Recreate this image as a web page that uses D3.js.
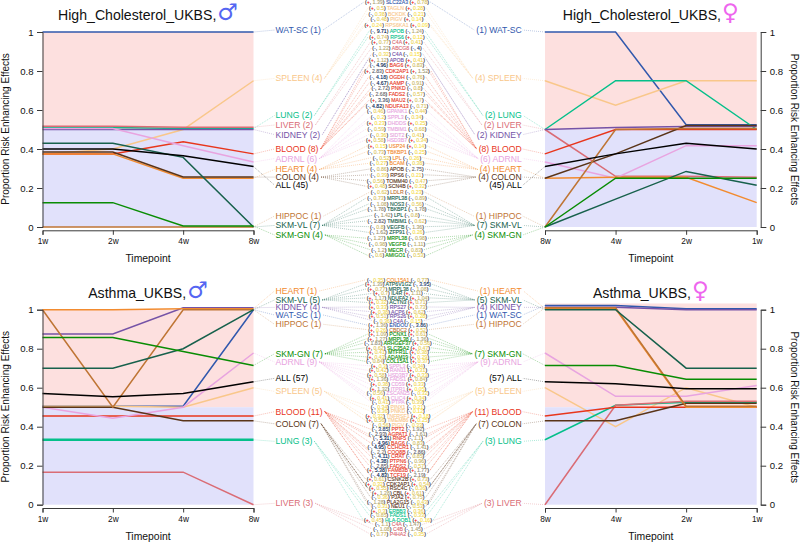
<!DOCTYPE html>
<html><head><meta charset="utf-8">
<script src="https://cdn.jsdelivr.net/npm/d3@7"></script>
<style>html,body{margin:0;background:#fff}svg{display:block}text{font-family:"Liberation Sans",Arial,sans-serif}</style>
</head><body><svg id="c" width="800" height="542"></svg>
<script>
const tissueNames = ["WAT-SC","SPLEEN","LUNG","LIVER","KIDNEY","BLOOD","ADRNL","HEART","COLON","ALL","HIPPOC","SKM-VL","SKM-GN"];
const tissueColors = ["#3158ad","#f9c78a","#04bf8a","#da6c75","#7553a7","#e8361c","#e8a4e0","#f28b2f","#5a3418","#000000","#bf7534","#17614c","#088c03"];
const timeMale = ["1w","2w","4w","8w"];
const timeFemale = ["8w","4w","2w","1w"];
const yTicks = [0,0.2,0.4,0.6,0.8,1];

// proportion values, one row per tissue in tissueNames order
const hcMale = [[1,1,1,1],[.375,.4,.5,.75],[.51,.51,.505,.505],[.517,.517,.512,.512],[.5,.5,.5,.5],[.375,.375,.4375,.375],[.505,.505,.417,.333],[.375,.375,.25,.25],[.385,.385,.256,.256],[.4,.4,.365,.31],[0,0,0,0],[.43,.43,.357,0],[.125,.125,.005,.005]];
const hcFemale = [[1,1,.525,.525],[.75,.625,.75,.75],[.5,.75,.75,.5],[.5,.26,.26,.255],[.5,.51,.515,.515],[.375,.5,.5,.5],[.333,.25,.417,.417],[.25,.255,.255,.125],[.25,.375,.52,.52],[.31,.375,.43,.4],[0,.5,.505,.505],[0,.143,.285,.214],[0,.25,.25,.25]];
const asMale = [[.505,.505,.505,1],[.505,.505,.5,.6],[.333,.333,.333,.333],[.167,.167,.167,0],[.875,.875,1.01,1.01],[.4545,.4545,.4545,.4545],[.5,.444,.5,.778],[1,1,1.005,1.005],[.5,.5,.43,.43],[.57,.553,.57,.63],[1,.5,1,1],[.7,.7,.8,1],[.857,.857,.786,.714]];
const asFemale = [[1.022,1.022,1.005,1.005],[.6,.4,.6,.5],[.333,.51,.525,.525],[0,.51,.53,.53],[1.012,1.012,1,1],[.4545,.5,.5,.5],[.778,.556,.556,.611],[1.005,1.005,.5,.5],[.43,.43,.52,.52],[.63,.62,.595,.595],[1.01,1.01,.505,.505],[1,1,.7,.7],[.714,.714,.643,.643]];

// level of each tissue label on the y scale, in tissueNames order
const hcLabelLevels = [1.01,.762,.572,.523,.474,.40,.351,.295,.256,.215,.056,.008,-.041];
const asLabelLevels = [.973,.581,.325,.007,1.012,.477,.732,1.096,.415,.648,.925,1.05,.774];

// rows: tissue, gene, male sign, male value, female sign, female value
const hcRows = [
["WAT-SC","SLC22A3","+",1.39,"+",0.78],
["SPLEEN","TAGLN","+",0.5,"+",0.28],["SPLEEN","BCKDK","-",0.38,"-",0.21],["SPLEEN","PIGV","-",0.48,"+",0.14],["SPLEEN","RPS6KA1","+",0.24,"+",0.09],
["LUNG","APOB","-",9.71,"-",1.24],["LUNG","RPS6","+",0.74,"+",0.12],
["LIVER","C4A","+",0.77,"+",0.41],["LIVER","ABCG8","-",1.22,"-",4],
["KIDNEY","C4A","-",0.32,"-",0.15],["KIDNEY","APOB","+",1.12,"+",0.41],
["BLOOD","BAG6","-",4.96,"+",0.83],["BLOOD","CDK2AP1","+",2.83,"+",1.52],["BLOOD","OGDH","-",4.18,"-",0.76],["BLOOD","AAMP","-",4.67,"-",0.91],["BLOOD","PNKD","-",2.72,"-",0.8],["BLOOD","FADS2","-",2.68,"-",0.57],["BLOOD","MAU2","+",3.36,"+",0.7],["BLOOD","NDUFA13","-",4.82,"-",0.71],
["ADRNL","GPANK1","-",0.46,"-",0.44],["ADRNL","SPPL3","-",0.2,"-",0.34],["ADRNL","DHDDS","+",0.23,"+",0.25],["ADRNL","TMBIM1","-",0.59,"-",0.68],["ADRNL","SIDT2","-",0.36,"-",0.41],["ADRNL","HSD3B7","+",0.58,"+",0.34],
["HEART","USP24","+",0.15,"+",0.14],["HEART","TBKBP1","-",0.73,"-",0.25],["HEART","LPL","-",0.52,"-",0.26],["HEART","BCAM","-",0.27,"-",0.38],
["COLON","APOB","-",0.86,"-",2.75],["COLON","RPS6","-",0.39,"-",0.21],["COLON","TOMM40","-",0.56,"-",0.47],["COLON","SCN4B","+",0.48,"+",0.32],
["HIPPOC","LDLR","-",0.62,"-",0.23],
["SKM-VL","MRPL38","-",0.73,"-",0.89],["SKM-VL","NOS3","-",1.08,"-",0.56],["SKM-VL","TBKBP1","-",1.78,"-",1.78],["SKM-VL","LPL","-",1.42,"-",0.8],["SKM-VL","TMBIM1","-",2.82,"-",0.62],["SKM-VL","VEGFB","-",0.8,"-",1.36],["SKM-VL","ZFP91","-",1.62,"-",0.26],
["SKM-GN","MRPL38","-",1.27,"-",0.98],["SKM-GN","VEGFB","-",0.98,"-",1.11],["SKM-GN","MECR","-",1.2,"-",0.83],["SKM-GN","AMIGO1","-",0.6,"-",0.53]];

const asRows = [
["HEART","COL15A1","-",0.35,"-",0.77],
["SKM-VL","ATP6V1G2","+",1.39,"-",3.95],["SKM-VL","MRPL38","+",0.77,"-",1.08],["SKM-VL","IL4R","+",0.7,"+",1.11],["SKM-VL","NDUFA2","+",1.17,"+",1.04],["SKM-VL","ACTN3","+",0.32,"+",0.71],
["KIDNEY","RPS27","+",0.33,"+",0.73],["KIDNEY","ACP6","+",0.38,"+",0.62],["KIDNEY","RPS26","+",0.51,"+",0.28],["KIDNEY","C4A","-",0.36,"-",0.15],
["WAT-SC","ENDOU","+",1.36,"-",3.86],
["HIPPOC","CBDC2","+",0.26,"+",0.52],
["SKM-GN","PCNX1","+",1.09,"+",0.61],["SKM-GN","MRPL38","+",1.27,"-",1.36],["SKM-GN","ARHGEF37","-",1.83,"+",0.56],["SKM-GN","SLC35A2","+",0.62,"+",0.47],["SKM-GN","MTFR1L","+",0.41,"+",0.38],["SKM-GN","ADAM19","+",0.43,"+",0.29],["SKM-GN","COL15A1","-",0.84,"+",0.37],
["ADRNL","SPPL3","+",0.3,"-",0.34],["ADRNL","RAN11","+",0.42,"+",0.31],["ADRNL","HSD3B7","+",0.58,"+",0.33],["ADRNL","FADS1","+",1.36,"+",0.84],["ADRNL","CD59","+",0.38,"+",0.33],["ADRNL","ITPR1","+",1.32,"+",0.05],["ADRNL","ZSCAN25","-",0.56,"-",0.32],["ADRNL","CLIC4","+",0.41,"+",0.34],["ADRNL","PTPA","-",0.41,"-",0.39],
["SPLEEN","PINX1","-",0.34,"-",0.21],["SPLEEN","PNKD","-",0.36,"-",0.12],["SPLEEN","TNFRSF1","+",0.32,"+",0.18],["SPLEEN","TMEM86","+",0.56,"+",0.25],["SPLEEN","PIGV","-",0.56,"-",0.33],
["BLOOD","PPT2","-",3.85,"-",1.92],["BLOOD","AGPAT1","-",2.93,"-",1.61],["BLOOD","RNF5","-",5.31,"-",1.1],["BLOOD","BAG6","-",4.96,"-",0.83],["BLOOD","CCHCR1","-",4.95,"-",1.41],["BLOOD","COQ8B","-",2.2,"-",2.86],["BLOOD","CRAT","-",4.11,"-",0.85],["BLOOD","PTPN6","-",4.38,"-",0.96],["BLOOD","FADS2","-",2.85,"-",0.57],["BLOOD","FAM83B","+",5.38,"+",1.77],["BLOOD","TCF19","-",4.83,"-",2.19],
["COLON","CSNK2B","+",0.61,"+",0.73],["COLON","CDK2AP1","+",0.32,"+",0.54],["COLON","RSC4C","+",0.55,"-",0.36],["COLON","CBL","+",1.28,"+",0.61],["COLON","PJA2","-",0.36,"+",0.75],["COLON","PLA2G15","-",1.28,"-",0.43],["COLON","NEU1","-",0.31,"-",0.53],
["LUNG","ERBB3","+",0.3,"-",0.36],["LUNG","FADS1","-",0.85,"-",0.33],["LUNG","HLA-DOB1","+",0.45,"+",0.16],
["LIVER","C4A","-",1.1,"-",1.47],["LIVER","C4B","-",1.08,"-",1.45],["LIVER","P4HA2","-",0.77,"-",0.35]];

const color = d3.scaleOrdinal(tissueNames, tissueColors);
const valueColor = d3.scaleSequential(t => d3.interpolateCividis(1 - t)).domain([0,4.6]).clamp(true);
const svg = d3.select("#c");
const bgLayer = svg.append("g"), leaderLayer = svg.append("g"), textLayer = svg.append("g");

const plots = [
 {title:"High_Cholesterol_UKBS,", sym:"♂", times:timeMale, vals:hcMale, rows:hcRows, levels:hcLabelLevels, side:"L", yTop:32, bgMax:1},
 {title:"High_Cholesterol_UKBS,", sym:"♀", times:timeFemale, vals:hcFemale, rows:hcRows, levels:hcLabelLevels, side:"R", yTop:32, bgMax:1},
 {title:"Asthma_UKBS,", sym:"♂", times:timeMale, vals:asMale, rows:asRows, levels:asLabelLevels, side:"L", yTop:309.7, bgMax:1, thickLung:true},
 {title:"Asthma_UKBS,", sym:"♀", times:timeFemale, vals:asFemale, rows:asRows, levels:asLabelLevels, side:"R", yTop:309.7, bgMax:1.032}
];
const plotH = 195, axisGray = "#3a3a3a";

plots.forEach(p => {
  const L = p.side === "L";
  const xr = L ? [42.5,253.5] : [545,756.7];
  const x = d3.scalePoint(p.times, xr);
  const y = d3.scaleLinear([0,1],[p.yTop+plotH,p.yTop]);
  const axisY = y(0)+3.3;
  const g = bgLayer.append("g");
  g.append("rect").attr("x",xr[0]).attr("width",xr[1]-xr[0]).attr("y",y(p.bgMax)).attr("height",y(.5)-y(p.bgMax)).attr("fill","#fde0df");
  g.append("rect").attr("x",xr[0]).attr("width",xr[1]-xr[0]).attr("y",y(.5)).attr("height",y(0)-y(.5)).attr("fill","#e1e1fb");
  // series
  const line = d3.line().x((d,i)=>x(p.times[i])).y(d=>y(d));
  const order = d3.range(tissueNames.length).sort((a,b)=>(tissueNames[a]==="ALL")-(tissueNames[b]==="ALL"));
  g.selectAll("path.s").data(order).join("path").attr("class","s")
    .attr("d",i=>line(p.vals[i])).attr("fill","none").attr("stroke",i=>tissueColors[i])
    .attr("stroke-width",i=>(p.thickLung&&tissueNames[i]==="LUNG")?2.6:1.5);
  // axes
  const ax = d3.axisBottom(x).tickSize(4.5).tickPadding(3.5);
  const gx = g.append("g").attr("transform",`translate(0,${axisY})`).call(ax);
  gx.selectAll("text").attr("font-size",8.3).attr("fill","#111");
  const ay = (L?d3.axisLeft(y):d3.axisRight(y)).tickValues(yTicks).tickFormat(d3.format("~g")).tickSize(5.5).tickPadding(3.5);
  const gy = g.append("g").attr("transform",`translate(${L?xr[0]:760.7},0)`).call(ay);
  gy.selectAll("text").attr("font-size",9.6).attr("fill","#111");
  [gx,gy].forEach(a=>{a.selectAll("path,line").attr("stroke",axisGray).attr("stroke-width",1)});
  gx.selectAll("text").style("font-family",'"Liberation Sans"');
  gy.selectAll("text").style("font-family",'"Liberation Sans"');
  // axis titles
  g.append("text").attr("x",(xr[0]+xr[1])/2).attr("y",y(0)+35).attr("text-anchor","middle").attr("font-size",10.4).attr("fill","#111").text("Timepoint");
  const cy = y(.5)+ (L?-.5:0);
  g.append("text").attr("transform",L?`translate(8.5,${cy}) rotate(-90)`:`translate(791,${cy}) rotate(90)`)
    .attr("text-anchor","middle").attr("font-size",10).attr("fill","#111").text("Proportion Risk Enhancing Effects");
  // title
  const t = g.append("text").attr("x",(xr[0]+xr[1])/2).attr("y",y(1)-12).attr("text-anchor","middle").attr("font-size",14.1).attr("fill","#111");
  t.append("tspan").text(p.title);
  t.append("tspan").text(p.sym).attr("font-size",23).style("font-family","'DejaVu Sans'").attr("dx",1)
    .attr("fill",p.sym==="♂"?"#5566f2":"#ee66ee");
  p.x = x; p.y = y; p.L = L; p.xr = xr;
});

// gene rows, centred between the plots
function drawRows(rows, top, pitch, cx){
  const sel = textLayer.append("g").selectAll("text").data(rows).join("text")
    .attr("x",cx).attr("y",(d,i)=>top+i*pitch).attr("dy","0.35em").attr("text-anchor","middle").attr("font-size",5.2);
  const piece = (s,txt,col)=>s.append("tspan").text(txt).attr("fill",col).attr("stroke",col).attr("stroke-width",.12);
  sel.each(function(d){
    const s = d3.select(this);
    const part = (sign,val)=>{
      piece(s,"(","#222");
      piece(s,sign==="+"?"+":"-",sign==="+"?"#f01010":"#2040e0");
      piece(s,", ","#222");
      piece(s,String(val),valueColor(val));
      piece(s,")","#222");
    };
    part(d[2],d[3]);
    piece(s," "+d[1]+" ",color(d[0]));
    part(d[4],d[5]);
  });
  return sel;
}
const hcSel = drawRows(hcRows,2.2,5.76,397);
const asSel = drawRows(asRows,280,4.53,398);

// tissue labels and dotted leaders
plots.forEach((p,pi)=>{
  const sel = p.rows===hcRows?hcSel:asSel;
  const plotEdge = p.L?p.xr[1]:p.xr[0];
  const endIdx = p.L?3:0;
  tissueNames.forEach((name,i)=>{
    const n = name==="ALL"?p.rows.length:p.rows.filter(r=>r[0]===name).length;
    const ly = p.y(p.levels[i]);
    const lab = textLayer.append("text").attr("x",p.L?275.5:521.7).attr("y",ly).attr("dy","0.35em")
      .attr("text-anchor",p.L?"start":"end").attr("font-size",8.6).attr("fill",tissueColors[i])
      .text(p.L?`${name} (${n})`:`(${n}) ${name}`);
    const bb = lab.node().getBBox();
    const leader = (x1,y1,x2,y2)=>leaderLayer.append("line").attr("x1",x1).attr("y1",y1).attr("x2",x2).attr("y2",y2)
      .attr("stroke",tissueColors[i]).attr("stroke-width",.55).attr("stroke-dasharray","1 1").attr("stroke-opacity",.6);
    leader(plotEdge,p.y(p.vals[i][endIdx]),p.L?bb.x-1:bb.x+bb.width+1,ly);
    sel.filter(d=>d[0]===name).each(function(){
      const b = this.getBBox();
      const ry = b.y+b.height/2;
      leader(p.L?bb.x+bb.width+2:b.x+b.width+1,p.L?ly:ry,p.L?b.x-1:bb.x-2,p.L?ry:ly);
    });
  });
});
</script></body></html>
